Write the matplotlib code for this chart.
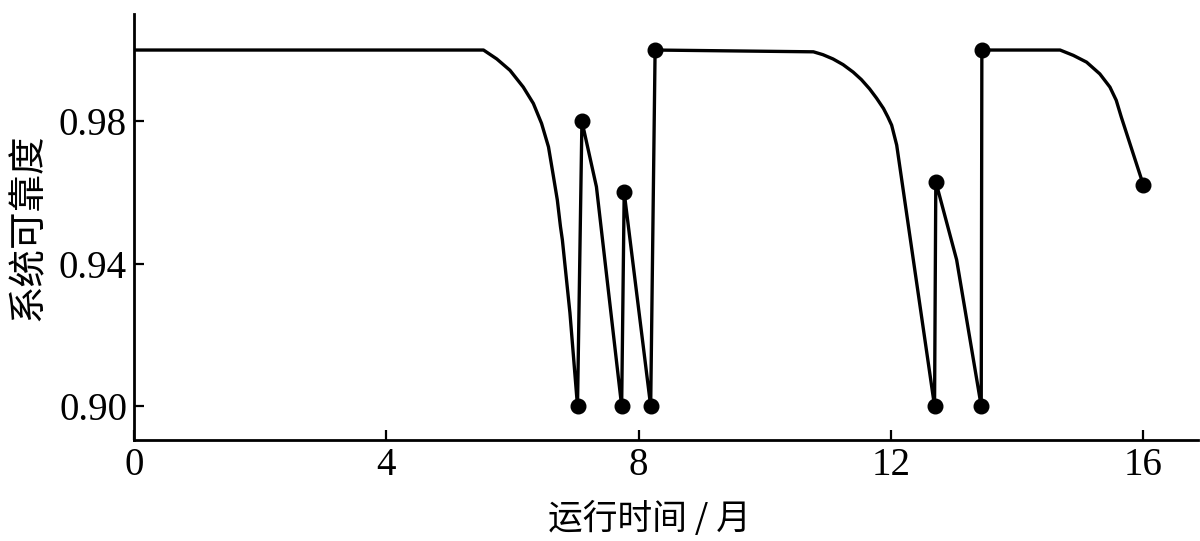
''' System reliability vs running time, with maintenance points '''
import matplotlib
matplotlib.use('Agg')
import matplotlib.pyplot as plt

# reliability curve (time in months)
t_month = [0.0, 5.54, 5.75, 5.96, 6.17, 6.33, 6.46, 6.57, 6.64, 6.71, 6.76, 6.79, 6.91, 7.03,
           7.10, 7.33, 7.73,
           7.77, 8.19,
           8.26, 10.77, 10.92, 11.08, 11.24, 11.40, 11.53, 11.66, 11.77, 11.88, 11.95,
           12.01, 12.05, 12.09, 12.69,
           12.71, 13.04, 13.43,
           13.44, 14.68, 14.89, 15.10, 15.31, 15.47, 15.57, 15.65, 16.0]
reliability = [1.0, 1.0, 0.9975, 0.9943, 0.9896, 0.9850, 0.9794, 0.9728, 0.9654, 0.9579,
               0.9504, 0.9467, 0.9262, 0.90,
               0.98, 0.9616, 0.90,
               0.96, 0.90,
               1.0, 0.9995, 0.9987, 0.9975, 0.9959, 0.9938, 0.9917, 0.9891, 0.9865, 0.9836,
               0.9812, 0.9789, 0.9761, 0.9733, 0.90,
               0.963, 0.9411, 0.90,
               1.0, 1.0, 0.9985, 0.9966, 0.9933, 0.9896, 0.9859, 0.9812, 0.9621]

# maintenance / end points marked with dots
mark_t = [7.03, 7.10, 7.73, 7.77, 8.19, 8.26, 12.69, 12.71, 13.43, 13.44, 16.0]
mark_r = [0.90, 0.98, 0.90, 0.96, 0.90, 1.0, 0.90, 0.963, 0.90, 1.0, 0.9621]

x_ticks = [0, 4, 8, 12, 16]
y_ticks = [0.90, 0.94, 0.98]
y_tick_labels = ['0.90', '0.94', '0.98']

cjk = ['Noto Sans CJK SC', 'DejaVu Sans']
serif = 'Liberation Serif'

fig = plt.figure(figsize=(12, 5.41), dpi=100)
ax = fig.add_axes([0.1117, 0.1867, 0.8863, 0.7873])

ax.plot(t_month, reliability, color='black', lw=2.4, solid_joinstyle='round')
ax.plot(mark_t, mark_r, ls='none', marker='o', ms=10.5, color='black')

ax.set_xlim(0, 16.86)
ax.set_ylim(0.8905, 1.0101)
ax.set_xticks(x_ticks)
ax.set_yticks(y_ticks)
ax.set_yticklabels(y_tick_labels)

for side in ['top', 'right']:
    ax.spines[side].set_visible(False)
for side in ['left', 'bottom']:
    ax.spines[side].set_linewidth(2)

ax.tick_params(direction='in', length=7, width=1.6, pad=5)
for lab in ax.get_xticklabels() + ax.get_yticklabels():
    lab.set_family(serif)
    lab.set_fontsize(28)

ax.set_xlabel('运行时间 / 月', family=cjk, fontsize=25)
ax.xaxis.set_label_coords(0.485, -0.145)
ax.set_ylabel('系统可靠度', family=cjk, fontsize=27, labelpad=8)

fig.savefig('out.png', dpi=100)
